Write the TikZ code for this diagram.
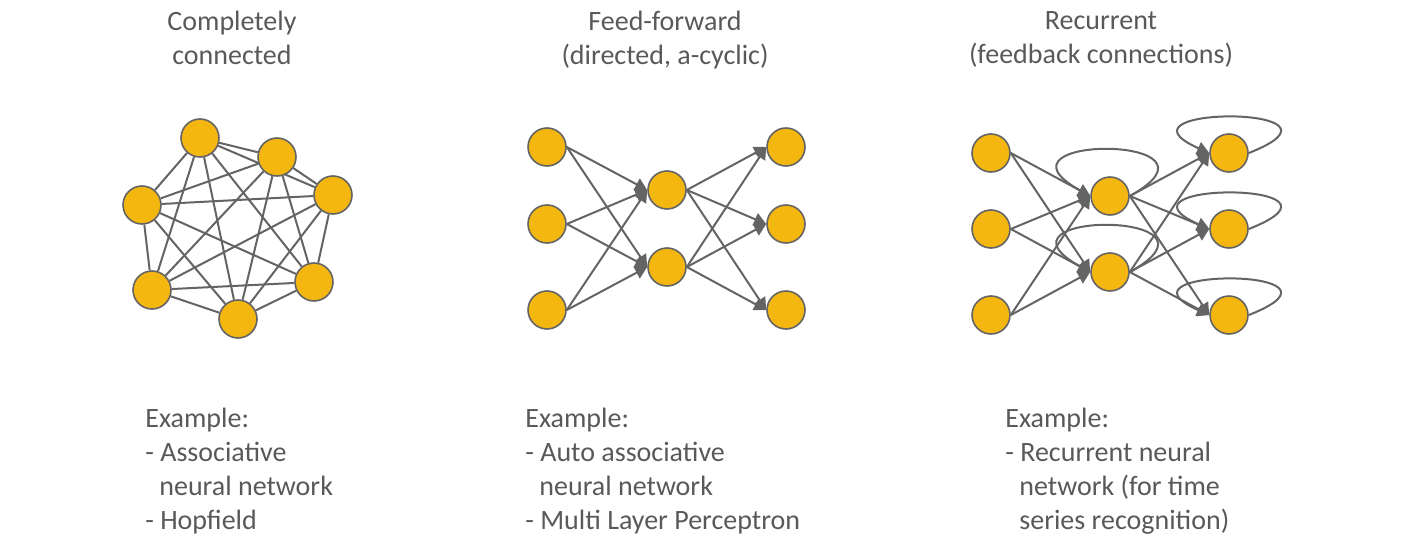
\documentclass[tikz,border=0pt]{standalone}
\usepackage{fontspec}
\setmainfont{Carlito}
\usetikzlibrary{arrows.meta}
\usetikzlibrary{backgrounds}
\definecolor{cellfill}{RGB}{244,183,16}
\definecolor{wire}{RGB}{100,100,100}
\definecolor{caption}{RGB}{89,89,89}
\tikzset{
 neuron/.style={circle, draw=wire, line width=0.8pt, fill=cellfill, minimum size=19pt, inner sep=0pt},
 link/.style={wire, line width=1pt},
 feed/.style={link, -{Triangle[length=6pt,width=6.5pt]}},
 heading/.style={caption, align=center, anchor=north, inner sep=0pt, font=\fontsize{14}{17}\selectfont},
 example/.style={caption, align=left, anchor=north west, inner sep=0pt, font=\fontsize{14}{17}\selectfont}
}
\begin{document}
\begin{tikzpicture}[x=0.5pt,y=-0.5pt]
\useasboundingbox (0,0) rectangle (1407,540);

% titles
\node[heading] (t1) at (232,11) {Completely\\connected};
\node[heading] (t2) at (665,11) {Feed-forward\\(directed, a-cyclic)};
\node[heading] (t3) at (1101,11) {Recurrent\\(feedback connections)};

% completely connected
\foreach \n/\x/\y in {1/200/138, 2/277/157, 3/333/195, 4/314/282, 5/238/319, 6/152/290, 7/142/205}
 \node[neuron] (c\n) at (\x,\y) {};
\begin{scope}[on background layer]
\foreach \a in {1,...,6} {
 \pgfmathtruncatemacro{\b}{\a+1}
 \foreach \c in {\b,...,7} \draw[link] (c\a) -- (c\c);
}
\end{scope}

% feed-forward
\foreach \n/\y in {1/147,2/224,3/310} {
 \node[neuron] (fi\n) at (547,\y) {};
 \node[neuron] (fo\n) at (786,\y) {};
}
\node[neuron] (fh1) at (667,190) {};
\node[neuron] (fh2) at (667,267) {};
\begin{scope}[on background layer]
\foreach \i in {1,2,3}
 \foreach \h in {1,2} {
  \draw[feed] (fi\i.east) -- (fh\h.west);
  \draw[feed] (fh\h.east) -- (fo\i.west);
 }
\end{scope}

% recurrent
\foreach \n/\y in {1/153,2/229,3/315} {
 \node[neuron] (ri\n) at (991,\y) {};
 \node[neuron] (ro\n) at (1229,\y) {};
}
\node[neuron] (rh1) at (1110,196) {};
\node[neuron] (rh2) at (1110,272) {};
\begin{scope}[on background layer]
\foreach \i in {1,2,3}
 \foreach \h in {1,2} {
  \draw[feed] (ri\i.east) -- (rh\h.west);
  \draw[feed] (rh\h.east) -- (ro\i.west);
 }
\foreach \h in {1,2}
 \draw[feed] (rh\h.east) .. controls +(112,-62) and +(-112,-62) .. (rh\h.west);
\foreach \o in {1,2,3}
 \draw[feed] (ro\o.east) .. controls +(122,-48) and +(-108,-48) .. (ro\o.west);
\end{scope}

% examples
\node[example] (e1) at (145,408) {Example:\\- Associative\\\hspace*{7pt}neural network\\- Hopfield};
\node[example] (e2) at (525,408) {Example:\\- Auto associative\\\hspace*{7pt}neural network\\- Multi Layer Perceptron};
\node[example] (e3) at (1005,408) {Example:\\- Recurrent neural\\\hspace*{7pt}network (for time\\\hspace*{7pt}series recognition)};
\end{tikzpicture}
\end{document}
